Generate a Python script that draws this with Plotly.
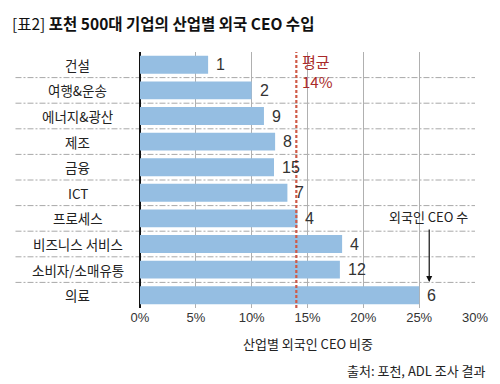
import plotly.graph_objects as go

categories = ["건설", "여행&운송", "에너지&광산", "제조", "금융", "ICT", "프로세스", "비즈니스 서비스", "소비자/소매유통", "의료"]
share_pct = [6.1, 10.0, 11.1, 12.1, 12.0, 13.2, 14.1, 18.1, 17.9, 25.0]
ceo_count = [1, 2, 9, 8, 15, 7, 4, 4, 12, 6]
average_pct = 14
x_ticks = [0, 5, 10, 15, 20, 25, 30]
x_tick_labels = ["0%", "5%", "10%", "15%", "20%", "25%", "30%"]

KR = "Noto Sans CJK KR, sans-serif"
NUM = "Liberation Sans Narrow, Liberation Sans, Noto Sans CJK KR, sans-serif"

L, R, T, B = 140, 21, 52, 76
W, H = 500, 384
pw = W - L - R
ph = H - T - B


def px_x(x):
    return (x - L) / pw


def px_y(y):
    return (H - B - y) / ph


fig = go.Figure()
fig.add_trace(go.Bar(
    x=share_pct, y=categories, orientation="h",
    marker=dict(color="#95bee2", line=dict(width=0)),
    width=0.7, hoverinfo="skip",
))

annotations = []
for c in categories:
    annotations.append(dict(
        x=px_x(77), xref="paper", y=c, yref="y", text=c, showarrow=False,
        xanchor="center", yanchor="middle", font=dict(family=KR, size=13.5, color="#222"),
    ))
for v, n, c in zip(share_pct, ceo_count, categories):
    annotations.append(dict(
        x=v, y=c, xref="x", yref="y", text=str(n), showarrow=False,
        xanchor="left", yanchor="middle", xshift=6,
        font=dict(family=NUM, size=16, color="#333"),
    ))
annotations.append(dict(
    x=average_pct, xref="x", y=1.01, yref="paper", text="평균<br>14%", showarrow=False,
    xanchor="left", yanchor="top", xshift=4, align="left",
    font=dict(family=KR, size=15, color="#a92a2a"),
))
annotations.append(dict(
    x=25.9, xref="x", y=px_y(282), yref="paper", text="", showarrow=True,
    ax=0, ay=-54, arrowhead=2, arrowsize=1, arrowwidth=1.2, arrowcolor="#111",
))
annotations.append(dict(
    x=25.8, xref="x", y=px_y(216), yref="paper", text="외국인 CEO 수", showarrow=False,
    xanchor="center", yanchor="middle", font=dict(family=KR, size=13, color="#222"),
))
annotations.append(dict(
    x=0.5, xref="paper", y=px_y(343), yref="paper", text="산업별 외국인 CEO 비중", showarrow=False,
    xanchor="center", yanchor="middle", font=dict(family=KR, size=13, color="#222"),
))
annotations.append(dict(
    x=px_x(492), xref="paper", y=px_y(370), yref="paper", text="출처: 포천, ADL 조사 결과", showarrow=False,
    xanchor="right", yanchor="middle", font=dict(family=KR, size=13, color="#222"),
))

shapes = []
for i in range(len(categories) - 1):
    shapes.append(dict(
        type="line", xref="paper", x0=px_x(14), x1=1, yref="y", y0=i + 0.5, y1=i + 0.5,
        line=dict(color="#a8a8a8", width=1, dash="6px,2px,2px,2px"), layer="below",
    ))
shapes.append(dict(
    type="line", xref="x", x0=average_pct, x1=average_pct, yref="paper", y0=0, y1=1,
    line=dict(color="#cf5a48", width=2.2, dash="3px,2px"),
))

fig.update_layout(
    width=W, height=H,
    margin=dict(l=L, r=R, t=T, b=B),
    paper_bgcolor="white", plot_bgcolor="white",
    showlegend=False,
    title=dict(
        text="<span style='font-weight:normal'>[표2]</span> <b>포천 500대 기업의 산업별 외국 CEO 수입</b>",
        x=12 / W, xref="container", xanchor="left", y=1 - 25 / H, yref="container", yanchor="middle",
        font=dict(family=KR, size=15.5, color="#111"),
    ),
    xaxis=dict(
        range=[0, 30], tickvals=x_ticks, ticktext=x_tick_labels,
        showgrid=True, gridcolor="#b0b0b0", gridwidth=1,
        zeroline=True, zerolinecolor="#111", zerolinewidth=1.5,
        ticks="", tickfont=dict(family=NUM, size=13, color="#333"),
        fixedrange=True,
    ),
    yaxis=dict(
        categoryorder="array", categoryarray=categories, autorange="reversed",
        showticklabels=False, showgrid=False, zeroline=False, ticks="",
        fixedrange=True,
    ),
    annotations=annotations,
    shapes=shapes,
    bargap=0.3,
)

fig.write_html(
    "out.html",
    config={"displayModeBar": False, "staticPlot": True},
    post_script="document.body.style.margin='0';document.body.style.overflow='hidden';",
)
